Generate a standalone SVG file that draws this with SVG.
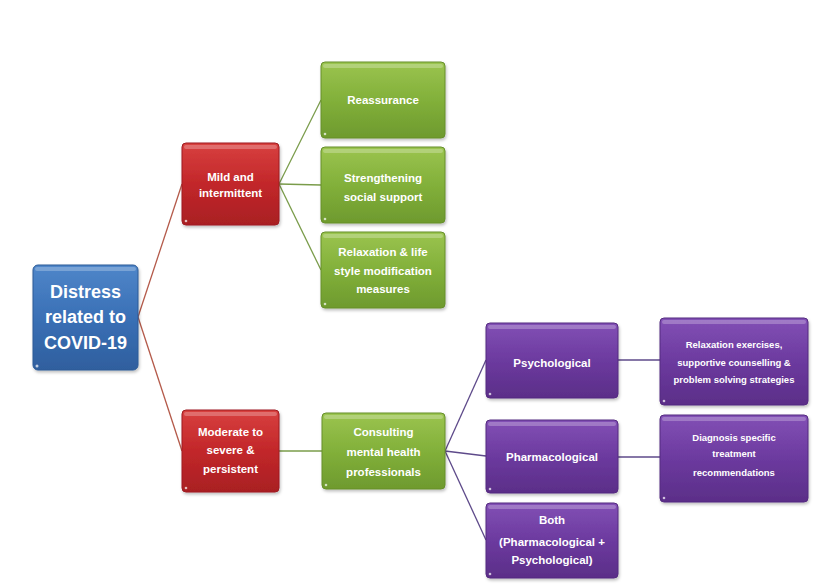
<svg xmlns="http://www.w3.org/2000/svg" width="823" height="588" viewBox="0 0 823 588">
<defs>
<linearGradient id="gBlue" x1="0" y1="0" x2="0" y2="1"><stop offset="0" stop-color="#4f86c9"/><stop offset="0.5" stop-color="#3a70b6"/><stop offset="1" stop-color="#2f5f9e"/></linearGradient>
<linearGradient id="gRed" x1="0" y1="0" x2="0" y2="1"><stop offset="0" stop-color="#d8403f"/><stop offset="0.5" stop-color="#c2272a"/><stop offset="1" stop-color="#a91f23"/></linearGradient>
<linearGradient id="gGreen" x1="0" y1="0" x2="0" y2="1"><stop offset="0" stop-color="#9bc44f"/><stop offset="0.5" stop-color="#82b03a"/><stop offset="1" stop-color="#6e9a2e"/></linearGradient>
<linearGradient id="gPurple" x1="0" y1="0" x2="0" y2="1"><stop offset="0" stop-color="#8250b5"/><stop offset="0.5" stop-color="#6c3a9f"/><stop offset="1" stop-color="#5b2e88"/></linearGradient>
<filter id="sh" x="-10%" y="-10%" width="130%" height="130%"><feDropShadow dx="1" dy="2" stdDeviation="1.5" flood-color="#000" flood-opacity="0.25"/></filter>
</defs>
<style>
.box{filter:url(#sh);stroke-width:1}
.blue{fill:url(#gBlue);stroke:#2c5a96}
.red{fill:url(#gRed);stroke:#9e1d20}
.green{fill:url(#gGreen);stroke:#668f2b}
.purple{fill:url(#gPurple);stroke:#552a80}
.hl{fill:#ffffff;opacity:0.25}
.dot{fill:#ffffff;opacity:0.7}
text{font-family:"Liberation Sans","Noto Sans",Arial,sans-serif;font-weight:bold;fill:#ffffff;text-anchor:middle}
.t18{font-size:18px}
.t12{font-size:11.5px}
.t10{font-size:9.5px}
.c-red{stroke:#b45a4a;stroke-width:1.3;fill:none}
.c-green{stroke:#7a9c4a;stroke-width:1.3;fill:none}
.c-purple{stroke:#5e4a8a;stroke-width:1.3;fill:none}
</style>
<rect width="823" height="588" fill="#ffffff"/>
<g id="connectors">
<line class="c-red" x1="138" y1="317" x2="182" y2="184"/>
<line class="c-red" x1="138" y1="317" x2="182" y2="451"/>
<line class="c-green" x1="279" y1="184" x2="321" y2="100"/>
<line class="c-green" x1="279" y1="184" x2="321" y2="185"/>
<line class="c-green" x1="279" y1="184" x2="321" y2="270"/>
<line class="c-green" x1="279" y1="451" x2="322" y2="451"/>
<line class="c-purple" x1="445" y1="451" x2="486" y2="360"/>
<line class="c-purple" x1="445" y1="451" x2="486" y2="456"/>
<line class="c-purple" x1="445" y1="451" x2="486" y2="540"/>
<line class="c-purple" x1="618" y1="360" x2="660" y2="360"/>
<line class="c-purple" x1="618" y1="457" x2="660" y2="457"/>
</g>
<g id="distress">
<rect class="box blue" x="33" y="265" width="105" height="105" rx="5"/>
<rect class="hl" x="35" y="267" width="101" height="4" rx="2"/>
<circle class="dot" cx="37" cy="366" r="1.5"/>
<text class="t18" x="85.5" y="298">Distress</text>
<text class="t18" x="85.5" y="323">related to</text>
<text class="t18" x="85.5" y="349">COVID-19</text>
</g>
<g id="mild">
<rect class="box red" x="182" y="143" width="97" height="82" rx="4"/>
<rect class="hl" x="184" y="145" width="93" height="4" rx="2"/>
<circle class="dot" cx="186" cy="221" r="1.3"/>
<text class="t12" x="230.5" y="181">Mild and</text>
<text class="t12" x="230.5" y="197">intermittent</text>
</g>
<g id="moderate">
<rect class="box red" x="182" y="410" width="97" height="82" rx="4"/>
<rect class="hl" x="184" y="412" width="93" height="4" rx="2"/>
<circle class="dot" cx="186" cy="488" r="1.3"/>
<text class="t12" x="230.5" y="436">Moderate to</text>
<text class="t12" x="230.5" y="454">severe &amp;</text>
<text class="t12" x="230.5" y="473">persistent</text>
</g>
<g id="reassurance">
<rect class="box green" x="321" y="62" width="124" height="76" rx="4"/>
<rect class="hl" x="323" y="64" width="120" height="4" rx="2"/>
<circle class="dot" cx="325" cy="134" r="1.3"/>
<text class="t12" x="383" y="104">Reassurance</text>
</g>
<g id="social">
<rect class="box green" x="321" y="147" width="124" height="76" rx="4"/>
<rect class="hl" x="323" y="149" width="120" height="4" rx="2"/>
<circle class="dot" cx="325" cy="219" r="1.3"/>
<text class="t12" x="383" y="182">Strengthening</text>
<text class="t12" x="383" y="201">social support</text>
</g>
<g id="relaxation">
<rect class="box green" x="321" y="232" width="124" height="76" rx="4"/>
<rect class="hl" x="323" y="234" width="120" height="4" rx="2"/>
<circle class="dot" cx="325" cy="304" r="1.3"/>
<text class="t12" x="383" y="256">Relaxation &amp; life</text>
<text class="t12" x="383" y="275">style modification</text>
<text class="t12" x="383" y="293">measures</text>
</g>
<g id="consulting">
<rect class="box green" x="322" y="413" width="123" height="76" rx="4"/>
<rect class="hl" x="324" y="415" width="119" height="4" rx="2"/>
<circle class="dot" cx="326" cy="485" r="1.3"/>
<text class="t12" x="383.5" y="436">Consulting</text>
<text class="t12" x="383.5" y="456">mental health</text>
<text class="t12" x="383.5" y="476">professionals</text>
</g>
<g id="psychological">
<rect class="box purple" x="486" y="323" width="132" height="75" rx="4"/>
<rect class="hl" x="488" y="325" width="128" height="4" rx="2"/>
<circle class="dot" cx="490" cy="394" r="1.3"/>
<text class="t12" x="552" y="367">Psychological</text>
</g>
<g id="pharmacological">
<rect class="box purple" x="486" y="420" width="132" height="73" rx="4"/>
<rect class="hl" x="488" y="422" width="128" height="4" rx="2"/>
<circle class="dot" cx="490" cy="489" r="1.3"/>
<text class="t12" x="552" y="461">Pharmacological</text>
</g>
<g id="both">
<rect class="box purple" x="486" y="503" width="132" height="75" rx="4"/>
<rect class="hl" x="488" y="505" width="128" height="4" rx="2"/>
<circle class="dot" cx="490" cy="574" r="1.3"/>
<text class="t12" x="552" y="524">Both</text>
<text class="t12" x="552" y="546">(Pharmacological +</text>
<text class="t12" x="552" y="564">Psychological)</text>
</g>
<g id="relaxation-exercises">
<rect class="box purple" x="660" y="318" width="148" height="87" rx="4"/>
<rect class="hl" x="662" y="320" width="144" height="4" rx="2"/>
<circle class="dot" cx="664" cy="401" r="1.3"/>
<text class="t10" x="734" y="348">Relaxation exercises,</text>
<text class="t10" x="734" y="366">supportive counselling &amp;</text>
<text class="t10" x="734" y="383">problem solving strategies</text>
</g>
<g id="diagnosis">
<rect class="box purple" x="660" y="415" width="148" height="87" rx="4"/>
<rect class="hl" x="662" y="417" width="144" height="4" rx="2"/>
<circle class="dot" cx="664" cy="498" r="1.3"/>
<text class="t10" x="734" y="441">Diagnosis specific</text>
<text class="t10" x="734" y="457">treatment</text>
<text class="t10" x="734" y="476">recommendations</text>
</g>
</svg>
